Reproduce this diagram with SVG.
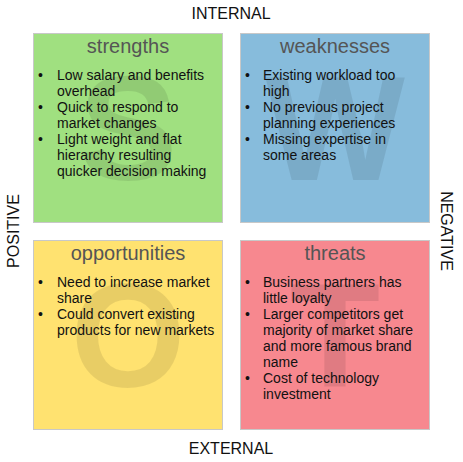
<svg xmlns="http://www.w3.org/2000/svg" width="463" height="462" viewBox="0 0 463 462">
<style>
.box{stroke:#c8c8c8;stroke-width:1}
.big{font-family:"Liberation Sans",Arial,sans-serif;font-weight:bold;font-size:148px;fill:#000;fill-opacity:0.09;text-anchor:middle}
.title{font-family:"Liberation Sans",Arial,sans-serif;font-size:20px;fill:#555;text-anchor:middle}
.item{font-family:"Liberation Sans",Arial,sans-serif;font-size:14px;fill:#111}
.lbl{font-family:"Liberation Sans",Arial,sans-serif;font-size:16px;fill:#111;text-anchor:middle}
</style>
<rect width="463" height="462" fill="#fff"/>
<g id="strengths">
<rect class="box" x="33.5" y="33.5" width="189" height="189" fill="#A0E080"/>
<text class="big" x="128" y="180">S</text>
<text class="title" x="128" y="53">strengths</text>
<text class="item"><tspan x="38" y="80">•</tspan><tspan x="57" y="80">Low salary and benefits</tspan><tspan x="57" y="96">overhead</tspan><tspan x="38" y="112">•</tspan><tspan x="57" y="112">Quick to respond to</tspan><tspan x="57" y="128">market changes</tspan><tspan x="38" y="144">•</tspan><tspan x="57" y="144">Light weight and flat</tspan><tspan x="57" y="160">hierarchy resulting</tspan><tspan x="57" y="176">quicker decision making</tspan></text>
</g>
<g id="weaknesses">
<rect class="box" x="240.5" y="33.5" width="189" height="189" fill="#87BCDC"/>
<text class="big" x="335" y="180">W</text>
<text class="title" x="335" y="53">weaknesses</text>
<text class="item"><tspan x="245" y="80">•</tspan><tspan x="263" y="80">Existing workload too</tspan><tspan x="263" y="96">high</tspan><tspan x="245" y="112">•</tspan><tspan x="263" y="112">No previous project</tspan><tspan x="263" y="128">planning experiences</tspan><tspan x="245" y="144">•</tspan><tspan x="263" y="144">Missing expertise in</tspan><tspan x="263" y="160">some areas</tspan></text>
</g>
<g id="opportunities">
<rect class="box" x="33.5" y="240.5" width="189" height="189" fill="#FFE270"/>
<text class="big" x="128" y="387">O</text>
<text class="title" x="128" y="260">opportunities</text>
<text class="item"><tspan x="38" y="287">•</tspan><tspan x="57" y="287">Need to increase market</tspan><tspan x="57" y="303">share</tspan><tspan x="38" y="319">•</tspan><tspan x="57" y="319">Could convert existing</tspan><tspan x="57" y="335">products for new markets</tspan></text>
</g>
<g id="threats">
<rect class="box" x="240.5" y="240.5" width="189" height="189" fill="#F7888F"/>
<text class="big" x="335" y="387">T</text>
<text class="title" x="335" y="260">threats</text>
<text class="item"><tspan x="245" y="287">•</tspan><tspan x="263" y="287">Business partners has</tspan><tspan x="263" y="303">little loyalty</tspan><tspan x="245" y="319">•</tspan><tspan x="263" y="319">Larger competitors get</tspan><tspan x="263" y="335">majority of market share</tspan><tspan x="263" y="351">and more famous brand</tspan><tspan x="263" y="367">name</tspan><tspan x="245" y="383">•</tspan><tspan x="263" y="383">Cost of technology</tspan><tspan x="263" y="399">investment</tspan></text>
</g>
<g id="labels">
<text class="lbl" x="231" y="19">INTERNAL</text>
<text class="lbl" x="231" y="454">EXTERNAL</text>
<text class="lbl" transform="translate(19,231) rotate(-90)" x="0" y="0">POSITIVE</text>
<text class="lbl" transform="translate(441,231) rotate(90)" x="0" y="0">NEGATIVE</text>
</g>
<g id="connectors"/>
</svg>
